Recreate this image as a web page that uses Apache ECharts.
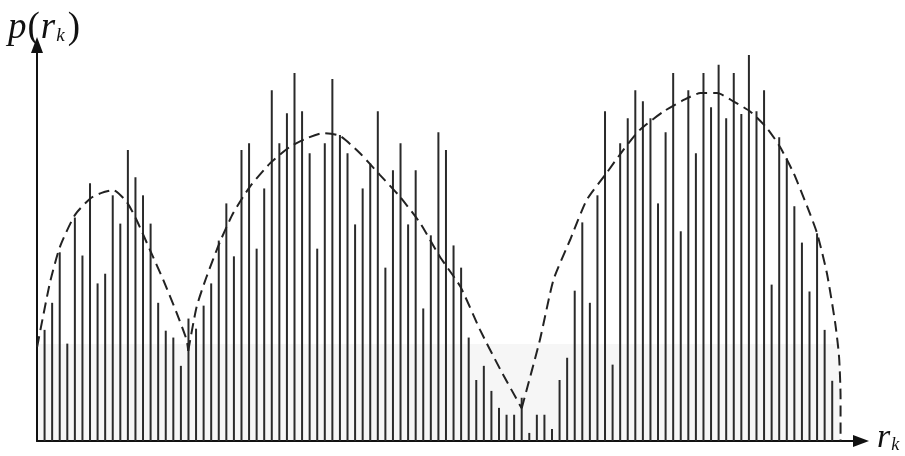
<!DOCTYPE html>
<html>
<head>
<meta charset="utf-8">
<script src="https://cdn.jsdelivr.net/npm/echarts@6/dist/echarts.min.js"></script>
<style>
  html, body { margin: 0; padding: 0; background: #fff; }
  #main { width: 905px; height: 456px; }
</style>
</head>
<body>
<div id="main"></div>
<script>
var myChart = echarts.init(document.getElementById('main'));

// histogram heights, gray level index k = 0..104 (arbitrary units, 0-100)
var histValues = [
    27.5, 34.2, 46.7, 24.1, 55.3, 45.9, 63.8, 39.0, 41.4, 60.8,
    53.8, 72.0, 65.3, 60.8, 53.8, 34.2, 27.3, 25.6, 18.6, 30.3,
    27.8, 33.5, 39.0, 49.6, 58.8, 45.7, 72.0, 73.7, 47.6, 62.5,
    86.8, 73.7, 81.1, 91.1, 81.6, 71.2, 47.6, 73.7, 89.6, 75.7,
    71.2, 53.6, 62.5, 68.7, 81.6, 42.9, 67.0, 73.7, 53.6, 67.0,
    32.8, 50.9, 76.4, 72.0, 48.4, 42.9, 25.6, 15.1, 18.6, 12.4,
    8.2, 6.5, 6.5, 10.7, 2.0, 6.5, 6.5, 3.0, 15.1, 20.6,
    37.2, 54.1, 34.2, 60.8, 81.6, 18.9, 73.7, 79.9, 86.8, 84.1,
    79.9, 58.8, 76.4, 91.1, 51.9, 86.8, 71.2, 91.1, 82.6, 93.1,
    79.9, 91.1, 80.9, 95.5, 81.6, 86.8, 38.7, 75.2, 70.0, 58.1,
    49.1, 37.0, 51.4, 27.5, 14.9
];

// dashed envelope, three arches [k, p]
var envelopeA = [
    [-0.98, 23.3], [0.7, 39.1], [2.02, 48.0], [4.0, 55.9], [6.08, 60.1],
    [7.53, 61.4], [9.06, 62.1], [10.83, 59.2], [12.15, 54.7], [13.91, 47.3],
    [15.67, 39.9], [17.44, 31.7], [18.76, 25.0], [18.97, 22.3]
];
var envelopeB = [
    [18.97, 22.3], [20.08, 33.2], [21.4, 40.7], [23.16, 49.3], [24.91, 56.4],
    [27.1, 62.9], [29.76, 68.7], [32.4, 72.8], [34.6, 74.9], [36.8, 76.2],
    [39.0, 75.5], [41.65, 71.2], [44.3, 65.8], [46.9, 60.5], [49.6, 53.9],
    [52.2, 45.6], [54.9, 38.2], [57.5, 27.5], [60.2, 17.6], [63.0, 8.1]
];
var envelopeC = [
    [63.0, 8.1], [65.4, 25.0], [67.2, 39.9], [69.4, 49.8], [71.6, 59.7],
    [74.2, 66.3], [76.4, 72.0], [78.6, 77.0], [81.7, 81.5], [84.4, 84.4],
    [86.6, 86.1], [88.8, 86.1], [91.0, 84.0], [93.2, 81.5], [95.4, 77.4],
    [97.1, 72.8], [98.9, 66.3], [100.7, 58.0], [102.0, 51.4], [103.3, 41.5],
    [104.4, 29.1], [104.9, 20.9], [105.1, 11.0], [105.1, 0]
];

var barData = histValues.map(function (v, k) { return [k, v]; });

var dashStyle = {
    color: '#222',
    width: 2,
    type: [11, 6]
};
function envelope(data) {
    return {
        type: 'line',
        data: data,
        smooth: 0.2,
        symbol: 'none',
        silent: true,
        lineStyle: dashStyle,
        z: 3
    };
}

var serif = 'Liberation Serif';
var mathRich = {
    i: { fontFamily: serif, fontStyle: 'italic', fontWeight: 'normal', fontSize: 37, color: '#111' },
    u: { fontFamily: serif, fontWeight: 'normal', fontSize: 37, color: '#111', padding: [0, 1, 0, 1] },
    s: { fontFamily: serif, fontStyle: 'italic', fontWeight: 'normal', fontSize: 19, color: '#111', padding: [14, 2, 0, 1] }
};

option = {
    backgroundColor: '#fff',
    animation: false,
    title: [
        {
            // y axis label p(r_k)
            text: '{i|p}{u|(}{i|r}{s|k}{u|)}',
            left: 8,
            top: 10,
            padding: 0,
            textStyle: { fontWeight: 'normal', rich: mathRich }
        },
        {
            // x axis label r_k
            text: '{i|r}{s|k}',
            left: 877,
            top: 421,
            padding: 0,
            textStyle: {
                fontWeight: 'normal',
                rich: {
                    i: { fontFamily: serif, fontStyle: 'italic', fontWeight: 'normal', fontSize: 34, color: '#111' },
                    s: { fontFamily: serif, fontStyle: 'italic', fontWeight: 'normal', fontSize: 18, color: '#111', padding: [14, 0, 0, 1] }
                }
            }
        }
    ],
    grid: {
        left: 37,
        right: 44,
        top: 45,
        bottom: 15,
        containLabel: false,
        outerBoundsMode: 'none'
    },
    xAxis: {
        type: 'value',
        min: -1,
        max: 107.8,
        axisLine: {
            onZero: false,
            symbol: ['none', 'triangle'],
            symbolSize: [12, 16],
            lineStyle: { color: '#111', width: 2 }
        },
        axisTick: { show: false },
        axisLabel: { show: false },
        splitLine: { show: false }
    },
    yAxis: {
        type: 'value',
        min: 0,
        max: 98,
        axisLine: {
            show: true,
            onZero: false,
            symbol: ['none', 'triangle'],
            symbolSize: [12, 16],
            lineStyle: { color: '#111', width: 2 }
        },
        axisTick: { show: false },
        axisLabel: { show: false },
        splitLine: { show: false }
    },
    series: [
        {
            name: 'p(rk)',
            type: 'bar',
            data: barData,
            barWidth: 2,
            silent: true,
            itemStyle: { color: '#2a2a2a' },
            markArea: {
                silent: true,
                itemStyle: { color: '#f6f6f6' },
                data: [[{ coord: [-1, 0] }, { coord: [105, 24] }]],
                z: 0
            }
        },
        envelope(envelopeA),
        envelope(envelopeB),
        envelope(envelopeC)
    ]
};
myChart.setOption(option);
</script>
</body>
</html>
